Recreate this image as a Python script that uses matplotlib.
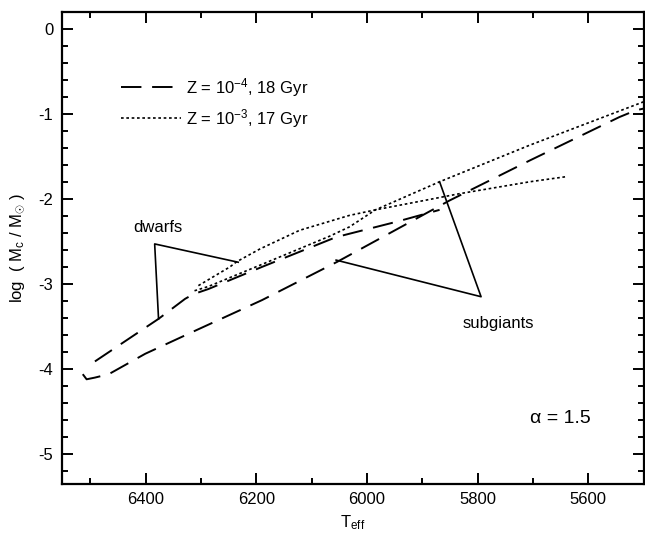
import matplotlib
matplotlib.use("Agg")
import matplotlib.pyplot as plt
from matplotlib.ticker import MultipleLocator

plt.rcParams['font.family'] = ['Liberation Sans', 'DejaVu Sans']
plt.rcParams['mathtext.fontset'] = 'custom'
plt.rcParams['mathtext.rm'] = 'Liberation Sans'
plt.rcParams['mathtext.it'] = 'Liberation Sans:italic'
plt.rcParams['axes.unicode_minus'] = False

# Z = 1e-4, 18 Gyr : dwarf branch and subgiant branch
t_dw4 = [6492, 6377, 6329, 6314, 6287, 6190, 6056, 5947, 5869]
m_dw4 = [-3.91, -3.41, -3.175, -3.12, -3.06, -2.80, -2.45, -2.27, -2.13]
t_sg4 = [6514, 6507, 6492, 6467, 6401, 6311, 6190, 6054, 5851, 5706, 5544, 5514, 5500]
m_sg4 = [-4.06, -4.12, -4.10, -4.06, -3.82, -3.55, -3.19, -2.74, -2.02, -1.55, -1.04, -0.96, -0.94]

# Z = 1e-3, 17 Gyr
t_dw3 = [6305, 6248, 6236, 6194, 6122, 6032, 5985, 5833, 5706, 5640]
m_dw3 = [-3.02, -2.80, -2.74, -2.59, -2.37, -2.195, -2.13, -1.94, -1.80, -1.74]
t_sg3 = [6312, 6287, 6190, 6068, 6032, 5985, 5869, 5797, 5706, 5500]
m_sg3 = [-3.08, -3.03, -2.77, -2.44, -2.33, -2.13, -1.80, -1.61, -1.37, -0.86]

# annotation pointers
dw_t = [6233, 6384, 6377]
dw_m = [-2.745, -2.53, -3.41]
sg_t = [6056, 5794, 5869]
sg_m = [-2.72, -3.15, -1.80]

fig = plt.figure(figsize=(6.45, 5.35), dpi=100)
ax = fig.add_axes([0.0957, 0.0953, 0.9023, 0.8832])

dash = (0, (10.5, 5.5))
dot = (0, (1.6, 1.6))
ax.plot(t_dw4, m_dw4, color='black', lw=1.4, linestyle=dash, label='Z = 10$^{-4}$, 18 Gyr')
ax.plot(t_sg4, m_sg4, color='black', lw=1.4, linestyle=dash)
ax.plot(t_dw3, m_dw3, color='black', lw=1.2, linestyle=dot, label='Z = 10$^{-3}$, 17 Gyr')
ax.plot(t_sg3, m_sg3, color='black', lw=1.2, linestyle=dot)

ax.plot(dw_t, dw_m, color='black', lw=1.2)
ax.plot(sg_t, sg_m, color='black', lw=1.2)

ax.text(6378, -2.34, 'dwarfs', fontsize=12, ha='center', va='center')
ax.text(5763, -3.46, 'subgiants', fontsize=12, ha='center', va='center')
ax.text(5650, -4.58, 'α = 1.5', fontsize=14, ha='center', va='center')

ax.set_xlim(6552, 5500)
ax.set_ylim(-5.35, 0.2)
ax.xaxis.set_major_locator(MultipleLocator(200))
ax.xaxis.set_minor_locator(MultipleLocator(100))
ax.yaxis.set_major_locator(MultipleLocator(1))
ax.yaxis.set_minor_locator(MultipleLocator(0.2))
ax.tick_params(which='both', direction='in', top=True, right=True, width=1.4, labelsize=12)
ax.tick_params(which='major', length=8, pad=6)
ax.tick_params(which='minor', length=4.5)
for s in ax.spines.values():
    s.set_linewidth(1.6)

ax.set_xlabel('T$_{\\rm eff}$', fontsize=12, labelpad=4)
ax.set_ylabel('log  ( M$_{\\rm c}$ / M$_{\\odot}$ )', fontsize=12, labelpad=8)

ax.legend(loc='upper left', bbox_to_anchor=(0.102, 0.864), frameon=False, fontsize=12,
          handlelength=3.6, handletextpad=0.3, borderpad=0, borderaxespad=0, labelspacing=0.5)

fig.savefig('out.png', dpi=100)
